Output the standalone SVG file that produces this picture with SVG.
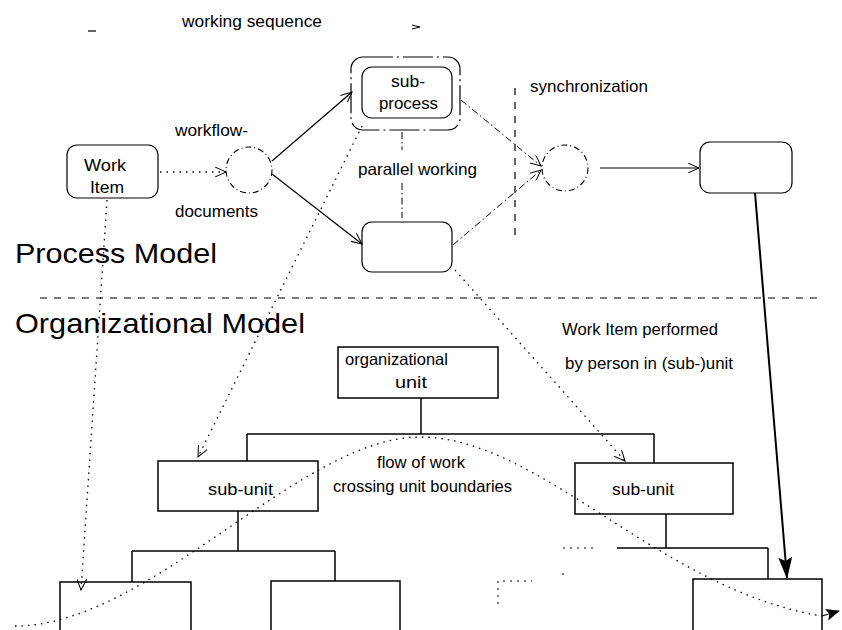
<svg xmlns="http://www.w3.org/2000/svg" width="842" height="630" viewBox="0 0 842 630">
  <style>
    text { font-family: "Liberation Sans", Arial, sans-serif; fill: #000; }
    .lbl { font-size: 16.5px; }
    .big { font-size: 28px; }
    .box { fill: none; stroke: #000; stroke-width: 1.2; }
    .circ { fill: none; stroke: #000; stroke-width: 1.1; stroke-dasharray: 6 3 1 3; }
    .solid { fill: none; stroke: #000; stroke-width: 1.2; }
    .thick { fill: none; stroke: #000; stroke-width: 2; }
    .dotted { fill: none; stroke: #000; stroke-width: 1.3; stroke-dasharray: 1.5 5; }
    .dashdot { fill: none; stroke: #000; stroke-width: 1; stroke-dasharray: 7 3 1.5 3; }
    .dashed { fill: none; stroke: #000; stroke-width: 1.2; stroke-dasharray: 7 7; }
    .faint { fill: none; stroke: #000; stroke-width: 1; stroke-dasharray: 2 5; }
    .org { fill: none; stroke: #000; stroke-width: 1.5; }
  </style>
  <defs>
    <marker id="open" viewBox="0 0 12 10" refX="11" refY="5" markerWidth="12" markerHeight="10" markerUnits="userSpaceOnUse" orient="auto">
      <path d="M0,0 L11,5 L0,10" fill="none" stroke="#000" stroke-width="1"/>
    </marker>
    <marker id="filled" viewBox="0 0 14 12" refX="13" refY="6" markerWidth="14" markerHeight="12" markerUnits="userSpaceOnUse" orient="auto">
      <path d="M0,0 L14,6 L0,12 L3,6 Z" fill="#000"/>
    </marker>
    <marker id="bigfilled" viewBox="0 0 22 14" refX="21" refY="7" markerWidth="22" markerHeight="14" markerUnits="userSpaceOnUse" orient="auto">
      <path d="M0,0 L22,7 L0,14 L4,7 Z" fill="#000"/>
    </marker>
  </defs>

  <!-- section titles and separator -->
  <g id="titles">
    <text class="big" x="15" y="263" textLength="202" lengthAdjust="spacingAndGlyphs">Process Model</text>
    <line class="dashed" x1="40" y1="298" x2="822" y2="298"/>
    <text class="big" x="15" y="333" textLength="290" lengthAdjust="spacingAndGlyphs">Organizational Model</text>
  </g>

  <!-- free labels -->
  <g id="labels">
    <text class="lbl" x="182" y="27" textLength="140" lengthAdjust="spacingAndGlyphs">working sequence</text>
    <line class="solid" x1="88" y1="31" x2="96" y2="31" stroke-width="1"/>
    <path d="M412,25 L420,27 L412,29" fill="none" stroke="#000" stroke-width="1"/>
    <text class="lbl" x="175" y="136" textLength="73" lengthAdjust="spacingAndGlyphs">workflow-</text>
    <text class="lbl" x="175" y="217" textLength="83" lengthAdjust="spacingAndGlyphs">documents</text>
    <text class="lbl" x="530" y="92" textLength="118" lengthAdjust="spacingAndGlyphs">synchronization</text>
    <text class="lbl" x="358" y="175" textLength="119" lengthAdjust="spacingAndGlyphs">parallel working</text>
    <text class="lbl" x="562" y="335" textLength="156" lengthAdjust="spacingAndGlyphs">Work Item performed</text>
    <text class="lbl" x="565" y="369" textLength="168" lengthAdjust="spacingAndGlyphs">by person in (sub-)unit</text>
    <text class="lbl" x="377" y="468" textLength="88" lengthAdjust="spacingAndGlyphs">flow of work</text>
    <text class="lbl" x="333" y="492" textLength="179" lengthAdjust="spacingAndGlyphs">crossing unit boundaries</text>
  </g>

  <!-- process model nodes -->
  <g id="work-item">
    <rect class="box" x="67" y="145" width="91" height="53" rx="10"/>
    <text class="lbl" x="84" y="171" textLength="42" lengthAdjust="spacingAndGlyphs">Work</text>
    <text class="lbl" x="90" y="193" textLength="34" lengthAdjust="spacingAndGlyphs">Item</text>
  </g>
  <g id="split">
    <circle class="circ" cx="249" cy="170" r="23"/>
  </g>
  <g id="sub-process">
    <rect class="box" x="351" y="57" width="109" height="73" rx="12" stroke-dasharray="30 4 2 4"/>
    <rect class="box" x="362" y="67" width="90" height="51" rx="10"/>
    <text class="lbl" x="391" y="87" textLength="34" lengthAdjust="spacingAndGlyphs">sub-</text>
    <text class="lbl" x="379" y="109" textLength="59" lengthAdjust="spacingAndGlyphs">process</text>
  </g>
  <g id="parallel">
    <rect class="box" x="362" y="222" width="90" height="50" rx="10"/>
  </g>
  <g id="sync">
    <circle class="circ" cx="565" cy="168" r="23"/>
  </g>
  <g id="next-step">
    <rect class="box" x="700" y="142" width="92" height="51" rx="10"/>
  </g>

  <!-- organizational model nodes -->
  <g id="org-unit">
    <rect class="org" x="338" y="347" width="160" height="51"/>
    <text class="lbl" x="345" y="365" textLength="103" lengthAdjust="spacingAndGlyphs">organizational</text>
    <text class="lbl" x="395" y="388" textLength="32" lengthAdjust="spacingAndGlyphs">unit</text>
  </g>
  <g id="sub-unit-left">
    <rect class="org" x="158" y="461" width="160" height="50"/>
    <text class="lbl" x="208" y="495" textLength="65" lengthAdjust="spacingAndGlyphs">sub-unit</text>
  </g>
  <g id="sub-unit-right">
    <rect class="org" x="575" y="463" width="158" height="51"/>
    <text class="lbl" x="612" y="495" textLength="62" lengthAdjust="spacingAndGlyphs">sub-unit</text>
  </g>
  <g id="person-1">
    <rect class="org" x="60" y="582" width="131" height="60"/>
  </g>
  <g id="person-2">
    <rect class="org" x="271" y="581" width="129" height="60"/>
  </g>
  <g id="person-3">
    <path class="faint" d="M498,604 L498,581 L532,581"/>
  </g>
  <g id="person-4">
    <rect class="org" x="693" y="579" width="129" height="62"/>
  </g>

  <!-- connectors -->
  <g id="connectors">
    <!-- process flow -->
    <line class="dotted" x1="160" y1="172" x2="226" y2="172" marker-end="url(#open)"/>
    <line class="solid" x1="272" y1="161" x2="352" y2="92" stroke-width="1.6" marker-end="url(#open)"/>
    <line class="solid" x1="272" y1="174" x2="362" y2="244" marker-end="url(#open)"/>
    <line class="dashdot" x1="461" y1="100" x2="541" y2="166" marker-end="url(#open)"/>
    <line class="dashdot" x1="453" y1="245" x2="541" y2="170" marker-end="url(#open)"/>
    <line class="solid" x1="600" y1="168" x2="699" y2="168" stroke-width="1.5" marker-end="url(#open)"/>
    <!-- parallel working / synchronization guides -->
    <line class="dashdot" x1="402" y1="132" x2="402" y2="150"/>
    <line class="dashdot" x1="402" y1="183" x2="402" y2="218"/>
    <line class="dashed" x1="515" y1="88" x2="515" y2="240" stroke-dasharray="8 6"/>
    <!-- process to organization mapping -->
    <line class="dotted" x1="107" y1="200" x2="81" y2="590" marker-end="url(#open)"/>
    <line class="dotted" x1="362" y1="126" x2="198" y2="457" marker-end="url(#open)"/>
    <line class="dotted" x1="455" y1="270" x2="625" y2="461" marker-end="url(#open)"/>
    <line class="thick" x1="755" y1="193" x2="787" y2="578" marker-end="url(#bigfilled)"/>
    <!-- organization tree -->
    <line class="org" x1="421" y1="398" x2="421" y2="434"/>
    <line class="org" x1="247" y1="434" x2="654" y2="434"/>
    <line class="org" x1="247" y1="434" x2="247" y2="461"/>
    <line class="org" x1="654" y1="434" x2="654" y2="463" stroke-width="2.5"/>
    <line class="org" x1="238" y1="511" x2="238" y2="551"/>
    <line class="org" x1="132" y1="551" x2="335" y2="551"/>
    <line class="org" x1="132" y1="551" x2="132" y2="582"/>
    <line class="org" x1="335" y1="551" x2="335" y2="581"/>
    <line class="org" x1="666" y1="514" x2="666" y2="548"/>
    <line class="org" x1="617" y1="548" x2="768" y2="548"/>
    <line class="faint" x1="563" y1="548" x2="597" y2="548"/>
    <line class="faint" x1="563" y1="573" x2="563" y2="577"/>
    <line class="org" x1="768" y1="548" x2="768" y2="579"/>
    <!-- flow of work across units -->
    <path class="dotted" d="M15,626 C150,626 300,437 420,437 C540,437 660,590 822,616" />
    <line class="solid" x1="822" y1="616" x2="839" y2="611" marker-end="url(#filled)"/>
  </g>
</svg>
